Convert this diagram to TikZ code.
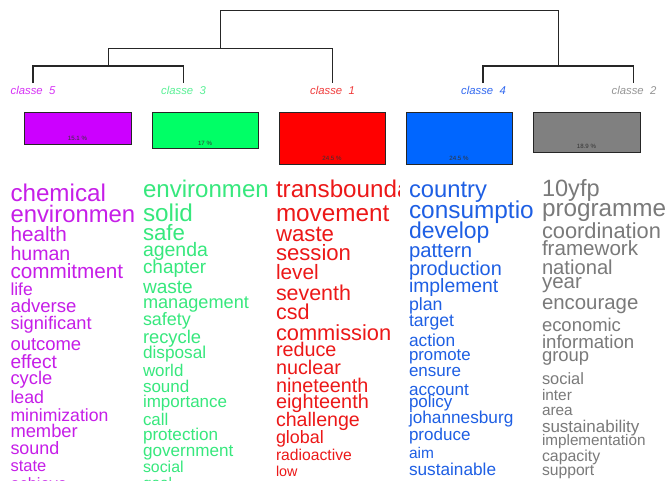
\documentclass[tikz,border=0pt]{standalone}
\usepackage{fontspec}
\setmainfont{Liberation Sans}
\definecolor{barP}{RGB}{204,0,255}
\definecolor{barG}{RGB}{0,255,102}
\definecolor{barR}{RGB}{255,0,0}
\definecolor{barB}{RGB}{0,102,255}
\definecolor{barK}{RGB}{128,128,128}
\definecolor{txtP}{RGB}{198,30,232}
\definecolor{txtG}{RGB}{55,232,125}
\definecolor{txtR}{RGB}{236,24,24}
\definecolor{txtB}{RGB}{30,95,228}
\definecolor{txtK}{RGB}{122,122,122}
\definecolor{labP}{RGB}{214,50,245}
\definecolor{labG}{RGB}{90,240,150}
\definecolor{labR}{RGB}{240,60,60}
\definecolor{labB}{RGB}{50,105,240}
\definecolor{labK}{RGB}{150,150,150}
\newcommand{\wordcol}[5]{%
  \begin{scope}
    \clip (#3-3,168) rectangle (#4,480.5);
    \foreach \s/\y/\w [count=\i] in {#5}{%
      \pgfmathsetmacro\fs{\s*0.76875}%
      \node[word, text=#2, font=\fontsize{\fs pt}{\fs pt}\selectfont] (#1-\i) at (#3,\y) {\w};
    }
  \end{scope}}
\begin{document}
\begin{tikzpicture}[x=0.75pt,y=-0.75pt,
  dend/.style={line width=0.9pt, draw=black!85},
  lab/.style={font=\itshape\fontsize{8.5}{9}\selectfont, inner sep=0},
  bar/.style={draw=black!85, line width=0.6pt},
  pct/.style={font=\fontsize{4.6}{5}\selectfont, text=black!80, inner sep=0},
  word/.style={anchor=base west, inner sep=0, outer sep=0}]
\useasboundingbox[fill=white] (0,0) rectangle (667,483);

% dendrogram
\coordinate (l5) at (33,83);
\coordinate (l3) at (183.5,83);
\coordinate (l1) at (332.5,83);
\coordinate (l4) at (483,83);
\coordinate (l2) at (633.5,83);
\coordinate (a53) at (108.3,66);
\coordinate (a531) at (220.5,48.3);
\coordinate (a42) at (558.3,66);
\coordinate (root) at (389.5,10.5);
\draw[dend] (l5) |- (a53) -| (l3);
\draw[dend] (a53) |- (a531) -| (l1);
\draw[dend] (l4) |- (a42) -| (l2);
\draw[dend] (a531) |- (root) -| (a42);

% class labels
\node[lab, text=labP] (c5) at (33,90) {classe\ \ 5};
\node[lab, text=labG] (c3) at (183.5,90) {classe\ \ 3};
\node[lab, text=labR] (c1) at (332.5,90) {classe\ \ 1};
\node[lab, text=labB] (c4) at (483.5,90) {classe\ \ 4};
\node[lab, text=labK] (c2) at (634,90) {classe\ \ 2};

% bars
\draw[bar, fill=barP] (24,112) rectangle (131,144.3);
\draw[bar, fill=barG] (152,112) rectangle (258,148.7);
\draw[bar, fill=barR] (279,112) rectangle (385,164.3);
\draw[bar, fill=barB] (406,112) rectangle (512,164.3);
\draw[bar, fill=barK] (533,112) rectangle (640,152.3);
\node[pct] (p5) at (77.5,138.5) {15.1 \%};
\node[pct] (p3) at (205,143) {17 \%};
\node[pct] (p1) at (332,158.5) {24.5 \%};
\node[pct] (p4) at (459,158.5) {24.5 \%};
\node[pct] (p2) at (586.5,146.5) {18.9 \%};

% word columns
\wordcol{w5}{txtP}{10.5}{134}{23.6/201.3/chemical, 23.3/222.3/environment, 20.2/241.7/health, 19.1/260/human, 20.2/278.3/commitment, 17/295/life, 18.1/312.7/adverse, 17.8/329.5/significant, 18/350/outcome, 18.7/368.3/effect, 17.9/384/cycle, 17.3/403.3/lead, 17.2/421/minimization, 17.9/437.7/member, 17.5/454.3/sound, 16.1/471/state, 16/489/achieve}
\wordcol{w3}{txtG}{143}{268.5}{23.5/197.3/environment, 23.7/221.7/solid, 21.7/240/safe, 19/256/agenda, 18.5/273.3/chapter, 18.6/293.3/waste, 17.7/308.3/management, 17.5/325/safety, 17.9/343.3/recycle, 16.8/358.3/disposal, 16.5/376.7/world, 16.6/392.7/sound, 16.6/407.3/importance, 16.5/425/call, 16.7/440/protection, 16.7/456/government, 15.5/472.3/social, 15/488/goal}
\wordcol{w1}{txtR}{276}{399.5}{23.6/197.3/transboundary, 23.7/221.7/movement, 21.7/241/waste, 21.6/260/session, 20.3/279.3/level, 20.9/300/seventh, 21/319/csd, 21.3/340/commission, 19.3/356.7/reduce, 19.3/374.3/nuclear, 19.3/392.7/nineteenth, 19.4/408.3/eighteenth, 19.1/426/challenge, 17.5/443.3/global, 15.3/460/radioactive, 14/476/low, 14/492/high}
\wordcol{w4}{txtB}{409}{534}{23.2/197.3/country, 23.8/218.3/consumption, 22.4/238.3/develop, 19.8/257.3/pattern, 19.4/275/production, 18.9/292.7/implement, 17.3/310/plan, 17.2/326.7/target, 16.9/346.7/action, 16.4/360.7/promote, 16.6/376.7/ensure, 16.7/395/account, 16.6/407.3/policy, 16.8/423.3/johannesburg, 16.6/440.7/produce, 15.1/458.3/aim, 16.8/475/sustainable}
\wordcol{w2}{txtK}{542}{667}{23/196.7/10yfp, 23.7/216/programme, 21.3/238/coordination, 20.1/255/framework, 19.7/274/national, 20/288/year, 19.9/309/encourage, 18/331/economic, 18.2/348/information, 18/361/group, 16/384/social, 15/400/inter, 15/415/area, 16.6/432/sustainability, 14.9/445/implementation, 15.5/461/capacity, 15.3/475/support}
\end{tikzpicture}
\end{document}
